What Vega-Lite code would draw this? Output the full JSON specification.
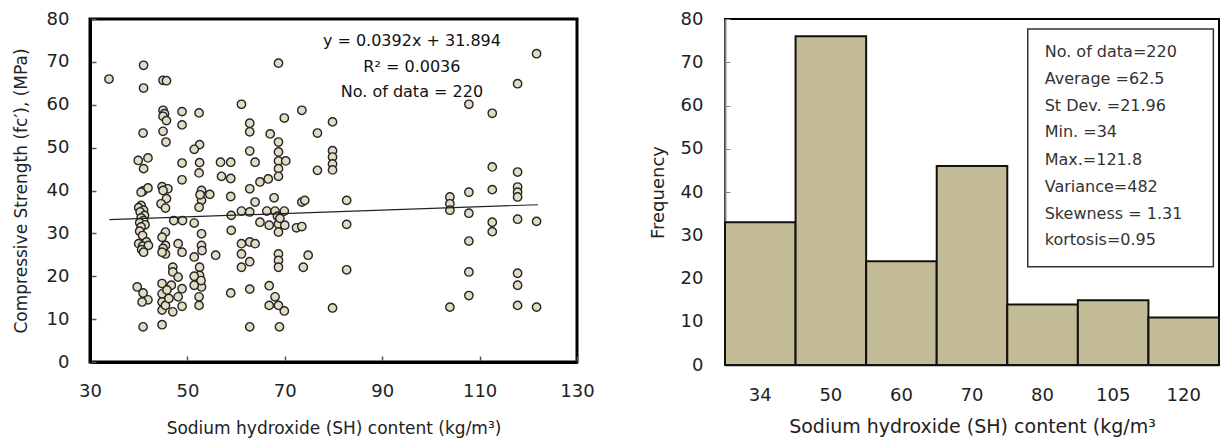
{
  "$schema": "https://vega.github.io/schema/vega-lite/v6.json",
  "padding": {"left": 10, "top": 8, "right": 0, "bottom": 0},
  "background": "white",
  "spacing": 52,
  "config": {
    "font": "DejaVu Sans",
    "axis": {"grid": false, "labelFlush": false, "labelFont": "DejaVu Sans", "titleFont": "DejaVu Sans", "labelColor": "#222", "titleColor": "#222", "titleFontWeight": "normal"}
  },
  "datasets": {
    "pts": [
      {"x":33.9,"y":66.0},
      {"x":41.0,"y":69.2},{"x":41.0,"y":63.9},{"x":40.9,"y":53.4},{"x":39.9,"y":47.0},{"x":41.9,"y":47.6},{"x":41.0,"y":45.1},{"x":40.9,"y":39.9},{"x":41.9,"y":40.6},{"x":40.5,"y":39.6},{"x":40.5,"y":36.5},{"x":40.0,"y":36.0},{"x":41.0,"y":35.4},{"x":40.3,"y":35.0},{"x":41.2,"y":34.2},{"x":40.5,"y":33.6},{"x":41.0,"y":33.0},{"x":40.2,"y":32.5},{"x":41.3,"y":32.0},{"x":40.5,"y":31.5},{"x":40.2,"y":30.5},{"x":40.8,"y":29.5},{"x":41.6,"y":28.0},{"x":40.0,"y":27.6},{"x":40.8,"y":27.0},{"x":42.0,"y":27.2},{"x":40.6,"y":26.2},{"x":41.0,"y":25.6},{"x":39.7,"y":17.5},{"x":40.9,"y":16.1},{"x":41.9,"y":14.5},{"x":40.7,"y":14.0},{"x":40.9,"y":8.2},
      {"x":45.0,"y":65.7},{"x":45.7,"y":65.6},{"x":45.0,"y":58.7},{"x":45.3,"y":57.9},{"x":45.0,"y":57.3},{"x":45.7,"y":56.3},{"x":45.0,"y":53.8},{"x":45.6,"y":51.3},{"x":44.8,"y":40.9},{"x":46.0,"y":40.4},{"x":45.0,"y":40.0},{"x":45.7,"y":38.1},{"x":44.6,"y":36.9},{"x":45.5,"y":35.9},{"x":45.5,"y":30.3},{"x":44.8,"y":29.1},{"x":45.5,"y":27.2},{"x":45.0,"y":26.5},{"x":45.5,"y":25.2},{"x":44.8,"y":25.6},{"x":47.0,"y":22.1},{"x":47.0,"y":21.0},{"x":44.8,"y":18.3},{"x":44.8,"y":15.9},{"x":44.8,"y":14.0},{"x":44.8,"y":12.1},{"x":46.7,"y":17.9},{"x":47.0,"y":11.7},{"x":47.2,"y":33.0},{"x":44.8,"y":8.7},{"x":45.8,"y":16.8},{"x":45.5,"y":13.2},{"x":46.2,"y":14.8},
      {"x":48.9,"y":58.4},{"x":48.9,"y":55.3},{"x":48.9,"y":46.4},{"x":48.9,"y":42.5},{"x":49.0,"y":33.0},{"x":48.1,"y":27.6},{"x":48.9,"y":25.6},{"x":48.1,"y":19.8},{"x":48.9,"y":17.1},{"x":48.9,"y":13.0},{"x":48.1,"y":15.2},
      {"x":52.4,"y":58.1},{"x":52.5,"y":50.7},{"x":51.4,"y":49.6},{"x":52.5,"y":46.5},{"x":52.4,"y":44.1},{"x":52.9,"y":40.0},{"x":52.9,"y":37.7},{"x":52.4,"y":36.1},{"x":51.4,"y":32.4},{"x":52.9,"y":29.9},{"x":52.9,"y":27.2},{"x":51.4,"y":24.5},{"x":52.5,"y":22.1},{"x":52.5,"y":20.2},{"x":51.4,"y":20.0},{"x":52.9,"y":17.5},{"x":52.4,"y":15.2},{"x":52.4,"y":13.2},{"x":51.4,"y":17.9},{"x":52.6,"y":39.0},{"x":53.0,"y":26.0},{"x":52.8,"y":19.0},
      {"x":54.6,"y":39.1},{"x":55.8,"y":24.9},
      {"x":56.8,"y":46.6},{"x":58.9,"y":46.6},{"x":57.0,"y":43.3},{"x":58.9,"y":42.8},{"x":58.9,"y":38.6},{"x":59.0,"y":34.2},{"x":59.0,"y":30.7},{"x":58.9,"y":16.1},
      {"x":61.1,"y":60.1},{"x":61.1,"y":35.2},{"x":61.1,"y":27.6},{"x":61.1,"y":25.2},{"x":61.1,"y":22.1},{"x":62.8,"y":55.7},{"x":62.8,"y":53.7},{"x":62.8,"y":49.2},{"x":62.8,"y":40.4},{"x":62.8,"y":35.0},{"x":62.8,"y":28.0},{"x":62.8,"y":23.4},{"x":62.8,"y":17.0},{"x":62.8,"y":8.2},{"x":63.9,"y":46.6},{"x":63.9,"y":37.3},{"x":63.9,"y":27.6},
      {"x":64.9,"y":42.0},{"x":64.9,"y":32.6},{"x":67.0,"y":53.2},{"x":66.6,"y":42.7},{"x":66.3,"y":35.2},{"x":66.8,"y":31.9},{"x":66.8,"y":17.8},{"x":66.8,"y":13.2},{"x":67.8,"y":38.3},{"x":68.0,"y":35.2},{"x":68.0,"y":15.2},{"x":68.7,"y":69.7},{"x":68.7,"y":51.3},{"x":68.7,"y":49.0},{"x":68.7,"y":46.9},{"x":68.7,"y":45.1},{"x":68.7,"y":43.3},{"x":68.7,"y":32.2},{"x":68.7,"y":30.3},{"x":68.7,"y":25.2},{"x":68.7,"y":23.7},{"x":68.7,"y":22.1},{"x":68.7,"y":13.2},{"x":68.9,"y":8.2},{"x":69.9,"y":56.9},{"x":70.2,"y":46.9},{"x":69.9,"y":35.2},{"x":70.0,"y":31.9},{"x":69.9,"y":11.9},{"x":72.4,"y":31.3},{"x":73.5,"y":31.6},{"x":73.5,"y":58.7},{"x":73.5,"y":37.3},{"x":74.1,"y":37.7},{"x":74.8,"y":24.9},{"x":73.8,"y":22.1},{"x":76.7,"y":53.4},{"x":76.7,"y":44.7},{"x":68.5,"y":34.0},{"x":69.0,"y":33.5},
      {"x":79.8,"y":56.0},{"x":79.8,"y":49.3},{"x":79.8,"y":47.8},{"x":79.8,"y":46.2},{"x":79.8,"y":44.8},{"x":79.8,"y":12.6},{"x":82.7,"y":37.7},{"x":82.7,"y":32.1},{"x":82.7,"y":21.5},
      {"x":103.9,"y":38.5},{"x":103.9,"y":36.9},{"x":103.9,"y":35.4},{"x":103.9,"y":12.8},
      {"x":107.8,"y":60.1},{"x":107.8,"y":39.6},{"x":107.8,"y":34.7},{"x":107.8,"y":28.2},{"x":107.8,"y":21.0},{"x":107.8,"y":15.5},
      {"x":112.6,"y":58.0},{"x":112.6,"y":45.5},{"x":112.6,"y":40.2},{"x":112.6,"y":32.6},{"x":112.6,"y":30.4},
      {"x":117.8,"y":64.9},{"x":117.8,"y":44.3},{"x":117.8,"y":40.8},{"x":117.8,"y":39.6},{"x":117.8,"y":38.5},{"x":117.8,"y":33.3},{"x":117.8,"y":20.7},{"x":117.8,"y":17.9},{"x":117.8,"y":13.2},
      {"x":121.7,"y":71.9},{"x":121.7,"y":32.8},{"x":121.7,"y":12.8}
    ],
    "fit": [{"x":34,"y":33.23},{"x":122,"y":36.68}],
    "note": [
      {"x":96.1,"y":74.8,"t":"y = 0.0392x + 31.894"},
      {"x":96.1,"y":68.8,"t":"R² = 0.0036"},
      {"x":96.1,"y":62.9,"t":"No. of data = 220"}
    ],
    "hist": [
      {"bin":"34","n":33},{"bin":"50","n":76},{"bin":"60","n":24},{"bin":"70","n":46},{"bin":"80","n":14},{"bin":"105","n":15},{"bin":"120","n":11}
    ],
    "box": [{"a":4.29,"b":6.92,"top":77.7,"bot":22.7}],
    "stats": [
      {"px":4.53,"py":72.4,"t":"No. of data=220"},
      {"px":4.53,"py":66.1,"t":"Average =62.5"},
      {"px":4.53,"py":59.9,"t":"St Dev. =21.96"},
      {"px":4.53,"py":53.9,"t":"Min. =34"},
      {"px":4.53,"py":47.4,"t":"Max.=121.8"},
      {"px":4.53,"py":41.2,"t":"Variance=482"},
      {"px":4.53,"py":34.9,"t":"Skewness = 1.31"},
      {"px":4.53,"py":28.9,"t":"kortosis=0.95"}
    ]
  },
  "hconcat": [
    {
      "width": 487,
      "height": 343,
      "view": {"stroke": "black", "strokeWidth": 3},
      "layer": [
        {
          "data": {"name": "pts"},
          "mark": {"type": "circle", "size": 70, "fill": "#E2DCC4", "stroke": "#262626", "strokeWidth": 1.4, "opacity": 1},
          "encoding": {
            "x": {"field": "x", "type": "quantitative",
              "scale": {"domain": [30, 130], "nice": false, "zero": false},
              "axis": {"values": [30, 50, 70, 90, 110, 130], "tickSize": -6, "tickColor": "#555", "tickWidth": 1.5, "domainColor": "black", "domainWidth": 3, "labelFontSize": 18, "labelPadding": 26, "title": "Sodium hydroxide (SH) content (kg/m³)", "titleFontSize": 17, "titlePadding": 20}},
            "y": {"field": "y", "type": "quantitative",
              "scale": {"domain": [0, 80], "nice": false},
              "axis": {"values": [0, 10, 20, 30, 40, 50, 60, 70, 80], "tickSize": -6, "tickColor": "#555", "tickWidth": 1.5, "domainColor": "black", "domainWidth": 3, "labelFontSize": 18, "labelPadding": 27, "title": "Compressive Strength (fc′), (MPa)", "titleFontSize": 17, "titlePadding": 16}}
          }
        },
        {
          "data": {"name": "fit"},
          "mark": {"type": "line", "color": "#222", "strokeWidth": 1.2},
          "encoding": {"x": {"field": "x", "type": "quantitative"}, "y": {"field": "y", "type": "quantitative"}}
        },
        {
          "data": {"name": "note"},
          "mark": {"type": "text", "fontSize": 16, "color": "#111", "align": "center", "baseline": "middle"},
          "encoding": {"x": {"field": "x", "type": "quantitative"}, "y": {"field": "y", "type": "quantitative"}, "text": {"field": "t"}}
        }
      ]
    },
    {
      "width": 494,
      "height": 346,
      "view": {"stroke": "black", "strokeWidth": 2},
      "resolve": {"scale": {"x": "independent"}, "axis": {"x": "independent"}},
      "layer": [
        {
          "data": {"name": "hist"},
          "mark": {"type": "bar", "fill": "#C4BC96", "stroke": "#111", "strokeWidth": 2},
          "encoding": {
            "x": {"field": "bin", "type": "ordinal", "sort": ["34","50","60","70","80","105","120"],
              "scale": {"paddingInner": 0, "paddingOuter": 0},
              "axis": {"labelAngle": 0, "ticks": false, "domainColor": "#888", "domainWidth": 2, "labelFontSize": 18, "labelPadding": 21, "title": "Sodium hydroxide (SH) content (kg/m³", "titleFontSize": 19, "titlePadding": 13}},
            "y": {"field": "n", "type": "quantitative",
              "scale": {"domain": [0, 80], "nice": false},
              "axis": {"values": [0, 10, 20, 30, 40, 50, 60, 70, 80], "tickSize": -5, "tickColor": "#888", "domainColor": "#888", "domainWidth": 2, "labelFontSize": 18, "labelPadding": 27, "title": "Frequency", "titleFontSize": 18, "titlePadding": 13}}
          }
        },
        {
          "data": {"name": "box"},
          "mark": {"type": "rect", "fill": "white", "stroke": "#333", "strokeWidth": 1.5},
          "encoding": {
            "x": {"field": "a", "type": "quantitative", "scale": {"domain": [0, 7], "nice": false}, "axis": null},
            "x2": {"field": "b"},
            "y": {"field": "top", "type": "quantitative"},
            "y2": {"field": "bot"}
          }
        },
        {
          "data": {"name": "stats"},
          "mark": {"type": "text", "fontSize": 16, "color": "#333", "align": "left", "baseline": "middle"},
          "encoding": {
            "x": {"field": "px", "type": "quantitative", "scale": {"domain": [0, 7], "nice": false}, "axis": null},
            "y": {"field": "py", "type": "quantitative"},
            "text": {"field": "t"}
          }
        }
      ]
    }
  ]
}
